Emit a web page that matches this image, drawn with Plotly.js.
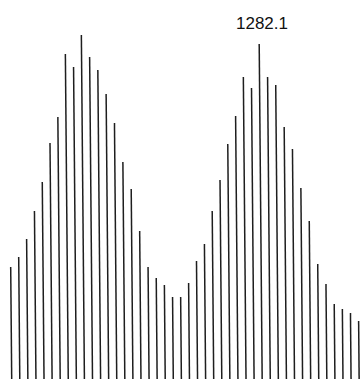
<!DOCTYPE html>
<html>
<head>
<meta charset="utf-8">
<script src="https://cdn.plot.ly/plotly-3.0.1.min.js"></script>
<style>html,body{margin:0;padding:0;background:#fff;}#chart{width:361px;height:379px;}</style>
</head>
<body>
<div id="chart"></div>
<script>
// peak index (position along the spectrum)
const peakIndex = [1,2,3,4,5,6,7,8,9,10,11,12,13,14,15,16,17,18,19,20,21,22,
  23,24,25,26,27,28,29,30,31,32,33,34,35,36,37,38,39,40,41,42,43,44];
// peak intensities (relative units)
const intensity = [112,122,140,168,197,236,262,325,312,344,322,309,285,256,
  217,190,148,112,101,94,82,82,96,118,135,168,199,235,263,302,291,335,302,
  294,252,230,191,158,115,95,75,70,66,58];
// labelled peak
const labelIndex = 32;
const labelText = "1282.1";

const LEAN = 0.0011; // slight scan tilt (style)
const xs = [], ys = [];
peakIndex.forEach((p, i) => {
  xs.push(p, p - LEAN * intensity[i], null);
  ys.push(0, intensity[i], null);
});

const trace = {
  type: 'scatter', mode: 'lines', x: xs, y: ys,
  line: {color: '#1e1e1e', width: 1.5},
  hoverinfo: 'skip', showlegend: false
};

const li = peakIndex.indexOf(labelIndex);
const layout = {
  width: 361, height: 379,
  margin: {l: 0, r: 0, t: 0, b: 0, pad: 0},
  paper_bgcolor: '#ffffff', plot_bgcolor: '#ffffff',
  xaxis: {range: [-0.448, 44.23], visible: false, fixedrange: true},
  yaxis: {range: [0, 379], visible: false, fixedrange: true},
  showlegend: false,
  annotations: [{
    x: labelIndex, y: intensity[li], xref: 'x', yref: 'y',
    text: labelText, showarrow: false, yanchor: 'bottom', xanchor: 'center',
    yshift: 9,
    font: {family: 'Liberation Sans, Arial, sans-serif', size: 17, color: '#111'}
  }]
};
Plotly.newPlot('chart', [trace], layout, {staticPlot: true, displayModeBar: false});
</script>
</body>
</html>
